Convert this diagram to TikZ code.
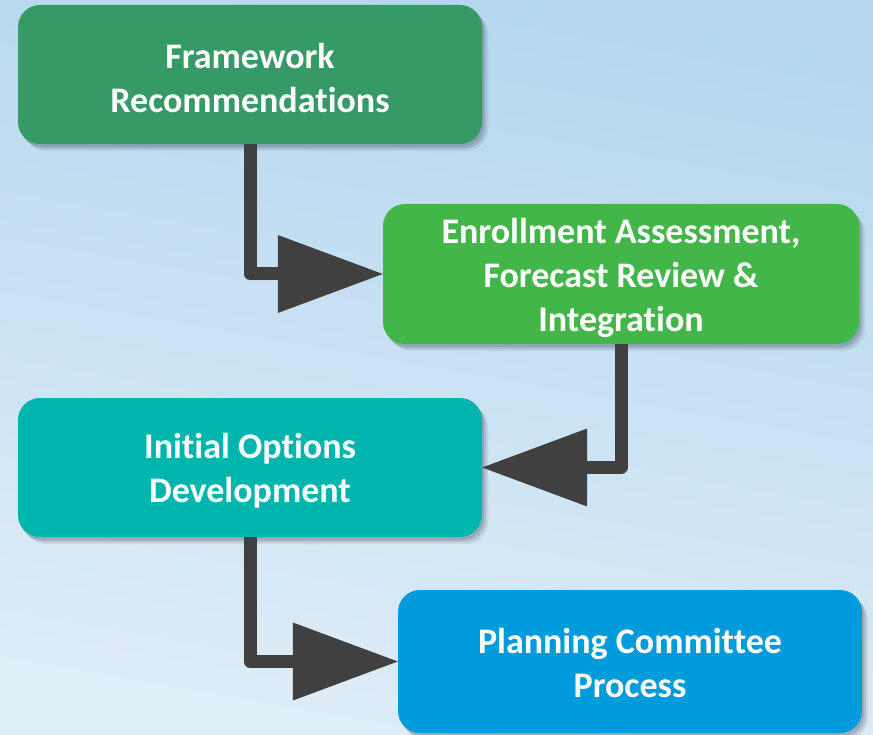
\documentclass[tikz,border=0pt]{standalone}
\usepackage{fontspec}
\setmainfont[Ligatures={NoCommon}]{Carlito}
\usetikzlibrary{arrows.meta,shadows}
\definecolor{bgtop}{HTML}{B4D6EE}
\definecolor{bgbot}{HTML}{DFEDF7}
\definecolor{boxA}{HTML}{359A66}
\definecolor{boxB}{HTML}{43B649}
\definecolor{boxC}{HTML}{00B5AE}
\definecolor{boxD}{HTML}{009BDB}
\definecolor{arrowgray}{HTML}{404040}
\definecolor{shadowgray}{HTML}{3A4A5A}
\begin{document}
\begin{tikzpicture}[x=1pt,y=-1pt,
  softshadow/.style={
    drop shadow={shadow xshift=2pt, shadow yshift=-3pt, fill=shadowgray, opacity=0.18},
    drop shadow={shadow xshift=4pt, shadow yshift=-5pt, fill=shadowgray, opacity=0.16},
    drop shadow={shadow xshift=6pt, shadow yshift=-7pt, fill=shadowgray, opacity=0.10}},
  stepbox/.style={rounded corners=22pt, inner sep=0pt, softshadow},
  steptext/.style={inner sep=0pt, text=white, align=center, yshift=-3.5pt,
    font=\bfseries\fontsize{36}{44}\selectfont},
  conn/.style={draw=arrowgray, line width=13pt, line join=round,
    -{Triangle[length=105pt,width=78pt,line width=0pt]}}]
\shade[top color=bgtop, bottom color=bgbot, shading angle=-10] (0,0) rectangle (873,735);
\useasboundingbox (0,0) rectangle (873,735);
\node[stepbox, fill=boxA, minimum width=464pt, minimum height=139pt,
  label={[steptext]center:{Framework\\Recommendations}}] (b1) at (250,74.5) {};
\node[stepbox, fill=boxB, minimum width=476pt, minimum height=140pt,
  label={[steptext]center:{Enrollment Assessment,\\Forecast Review \&\\Integration}}] (b2) at (621,274) {};
\node[stepbox, fill=boxC, minimum width=464pt, minimum height=139pt,
  label={[steptext]center:{Initial Options\\Development}}] (b3) at (250,467.5) {};
\node[stepbox, fill=boxD, minimum width=464pt, minimum height=143pt,
  label={[steptext,yshift=2pt]center:{Planning Committee\\Process}}] (b4) at (630,661.5) {};
\draw[conn] (b1.south) |- (b2.west);
\draw[conn] (b2.south) |- (b3.east);
\draw[conn] (b3.south) |- (b4.west);
\end{tikzpicture}
\end{document}
